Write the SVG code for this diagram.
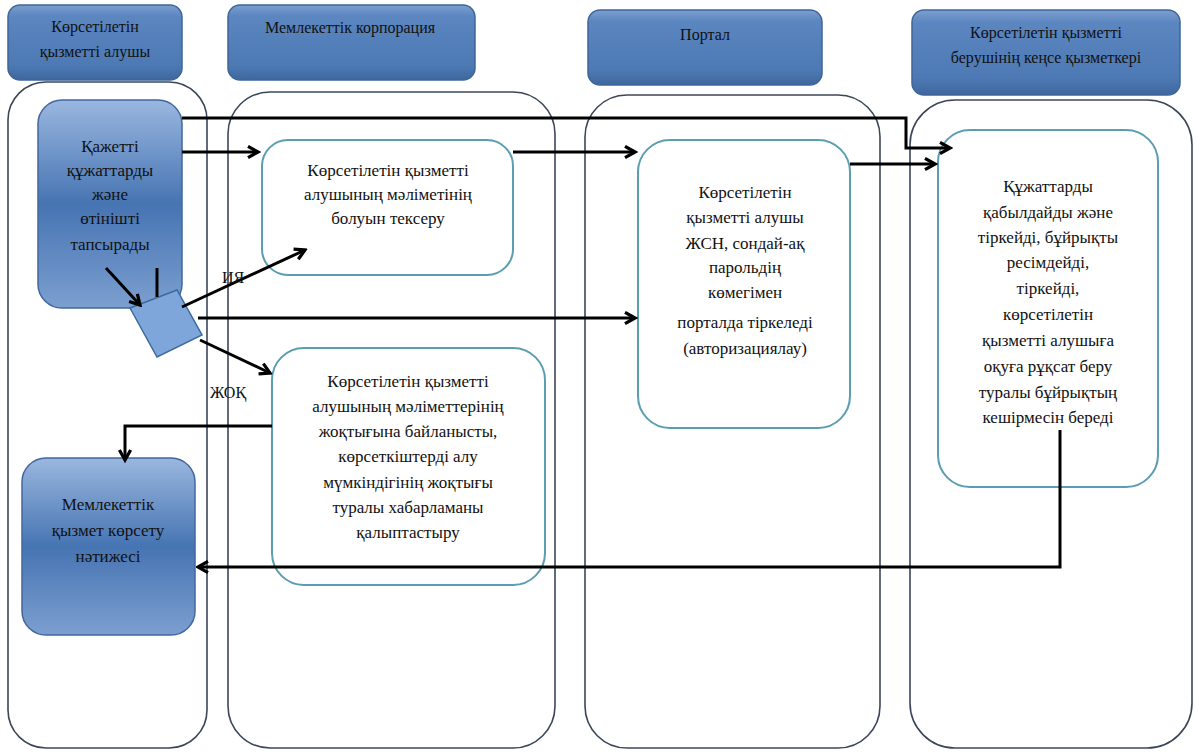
<svg xmlns="http://www.w3.org/2000/svg" width="1196" height="753" viewBox="0 0 1196 753">
<style>
.hdr{stroke:#3f6699;stroke-width:1.5}
.lane{fill:none;stroke:#3c4659;stroke-width:1.6}
.box{fill:#fff;stroke:#5b9db1;stroke-width:2}
.blue{stroke:#41689e;stroke-width:1.5}
text{font-family:'Liberation Serif','DejaVu Serif',serif;fill:#111;text-anchor:middle}
.t{font-size:17px}
.th{font-size:16px}
.c{fill:none;stroke:#000;stroke-width:3}
</style>
<defs>
<linearGradient id="gh" x1="0" y1="0" x2="0" y2="1">
<stop offset="0" stop-color="#7d9fcf"/><stop offset="0.15" stop-color="#5b86c0"/><stop offset="0.8" stop-color="#4d79b4"/><stop offset="1" stop-color="#3f679e"/>
</linearGradient>
<linearGradient id="gn" x1="0" y1="0" x2="0" y2="1">
<stop offset="0" stop-color="#9ab7df"/><stop offset="0.5" stop-color="#4674b2"/><stop offset="1" stop-color="#7c9fd0"/>
</linearGradient>
<marker id="ar" viewBox="0 0 12 12" refX="10" refY="6" markerWidth="5" markerHeight="5" markerUnits="strokeWidth" orient="auto">
<path d="M2,1.5 L10,6 L2,10.5" fill="none" stroke="#000" stroke-width="2.6"/>
</marker>
</defs>

<g id="lane1"><rect class="lane" x="8" y="82" width="199" height="666" rx="38"/>
<rect class="hdr" x="8" y="5" width="174" height="75" rx="12" fill="url(#gh)"/>
<text class="th" x="95" y="32" font-family="Liberation Serif">Көрсетілетін</text><text class="th" x="95" y="57">қызметті алушы</text></g>

<g id="lane2"><rect class="lane" x="228" y="92" width="327" height="656" rx="42"/>
<rect class="hdr" x="228" y="5" width="247" height="75" rx="12" fill="url(#gh)"/>
<text class="th" x="350" y="33">Мемлекеттік  корпорация</text></g>

<g id="lane3"><rect class="lane" x="585" y="95" width="295" height="653" rx="42"/>
<rect class="hdr" x="588" y="10" width="234" height="75" rx="12" fill="url(#gh)"/>
<text class="th" x="705" y="40">Портал</text></g>

<g id="lane4"><rect class="lane" x="910" y="100" width="282" height="648" rx="45"/>
<rect class="hdr" x="912" y="10" width="268" height="85" rx="12" fill="url(#gh)"/>
<text class="th" x="1046" y="38">Көрсетілетін қызметті</text><text class="th" x="1046" y="63">берушінің кеңсе  қызметкері</text></g>

<g id="start"><rect class="blue" x="38" y="100" width="144" height="208" rx="24" fill="url(#gn)"/>
<text class="t" x="110" y="152">Қажетті</text><text class="t" x="110" y="176">құжаттарды</text><text class="t" x="110" y="200">және</text><text class="t" x="110" y="224">өтінішті</text><text class="t" x="110" y="250">тапсырады</text></g>

<g id="decision"><polygon points="130,308 177,290 202,335 157,357" fill="#7fa6da" stroke="#3d6a9e" stroke-width="1.5"/></g>

<g id="check"><rect class="box" x="262" y="140" width="251" height="135" rx="26"/>
<text class="t" x="388" y="176">Көрсетілетін қызметті</text><text class="t" x="388" y="200">алушының мәліметінің</text><text class="t" x="388" y="224">болуын тексеру</text></g>

<g id="absent"><rect class="box" x="272" y="348" width="273" height="237" rx="32"/>
<text class="t" x="408" y="387">Көрсетілетін қызметті</text><text class="t" x="408" y="412">алушының мәліметтерінің</text><text class="t" x="408" y="437">жоқтығына байланысты,</text><text class="t" x="408" y="462">көрсеткіштерді алу</text><text class="t" x="408" y="488">мүмкіндігінің жоқтығы</text><text class="t" x="408" y="513">туралы хабарламаны</text><text class="t" x="408" y="538">қалыптастыру</text></g>

<g id="portal"><rect class="box" x="638" y="140" width="212" height="288" rx="32"/>
<text class="t" x="745" y="198">Көрсетілетін</text><text class="t" x="745" y="223">қызметті алушы</text><text class="t" x="745" y="249">ЖСН, сондай-ақ</text><text class="t" x="745" y="273">парольдің</text><text class="t" x="745" y="298">көмегімен</text><text class="t" x="745" y="328">порталда тіркеледі</text><text class="t" x="745" y="354">(авторизациялау)</text></g>

<g id="office"><rect class="box" x="938" y="130" width="220" height="357" rx="32"/>
<text class="t" x="1048" y="192">Құжаттарды</text><text class="t" x="1048" y="218">қабылдайды және</text><text class="t" x="1048" y="243">тіркейді, бұйрықты</text><text class="t" x="1048" y="268">ресімдейді,</text><text class="t" x="1048" y="294">тіркейді,</text><text class="t" x="1048" y="320">көрсетілетін</text><text class="t" x="1048" y="346">қызметті алушыға</text><text class="t" x="1048" y="372">оқуға рұқсат беру</text><text class="t" x="1048" y="398">туралы бұйрықтың</text><text class="t" x="1048" y="423">кешірмесін береді</text></g>

<g id="result"><rect class="blue" x="22" y="458" width="173" height="177" rx="24" fill="url(#gn)"/>
<text class="t" x="108" y="510">Мемлекеттік</text><text class="t" x="108" y="536">қызмет көрсету</text><text class="t" x="108" y="562">нәтижесі</text></g>

<g id="connectors">
<polyline class="c" points="182,118 906,118 906,148 950,148" marker-end="url(#ar)"/>
<line class="c" x1="182" y1="152" x2="258" y2="152" marker-end="url(#ar)"/>
<line class="c" x1="513" y1="152" x2="635" y2="152" marker-end="url(#ar)"/>
<line class="c" x1="850" y1="164" x2="935" y2="164" marker-end="url(#ar)"/>
<line class="c" x1="106" y1="268" x2="140" y2="305" marker-end="url(#ar)"/>
<line class="c" x1="157" y1="268" x2="157" y2="297"/>
<line class="c" x1="182" y1="307" x2="305" y2="250" marker-end="url(#ar)"/>
<line class="c" x1="198" y1="318" x2="635" y2="318" marker-end="url(#ar)"/>
<line class="c" x1="200" y1="340" x2="270" y2="373" marker-end="url(#ar)"/>
<polyline class="c" points="272,426 125,426 125,460" marker-end="url(#ar)"/>
<polyline class="c" points="1060,430 1060,567 198,567" marker-end="url(#ar)"/>
<text class="th" x="233" y="283">ИЯ</text>
<text class="th" x="228" y="398">ЖОҚ</text>
</g>
</svg>
